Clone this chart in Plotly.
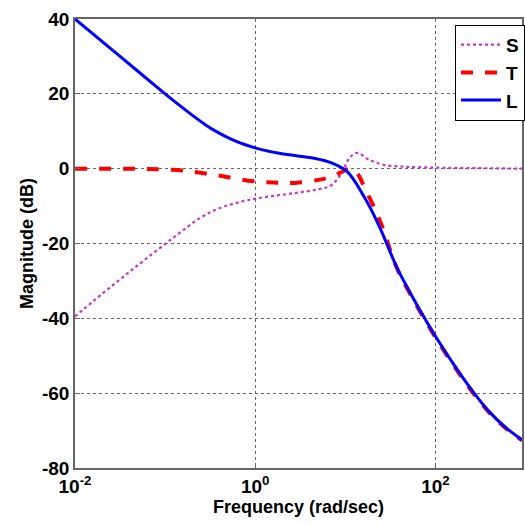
import plotly.graph_objects as go

# log10 of frequency (rad/sec) for each series, and magnitude in dB
l_logw = [-2, -1.5, -1, -0.85, -0.7, -0.55, -0.4, -0.25, -0.11, 0.07, 0.25, 0.44, 0.65, 0.84, 1.02, 1.21, 1.38, 1.57, 1.75, 1.87, 2.01, 2.23, 2.42, 2.59, 2.78, 2.96]
l_db = [40, 30, 20, 17.1, 14.3, 11.7, 9.5, 7.7, 6.4, 5.1, 4.2, 3.5, 2.8, 1.6, -0.8, -7.6, -15.6, -26.3, -34.5, -39.6, -45.2, -53.3, -59.7, -64.8, -69.2, -72.5]

t_logw = [-2, -1.5, -1.18, -0.81, -0.44, -0.08, 0.2, 0.44, 0.7, 0.84, 0.95, 1.05, 1.13, 1.21, 1.38, 1.57, 1.75, 1.87, 2.01, 2.23, 2.42, 2.59, 2.78, 2.96]
t_db = [0, 0, -0.1, -0.5, -1.7, -3.2, -3.7, -3.8, -3.0, -2.2, -1.0, 0.0, -1.2, -4.9, -13.7, -26.5, -34.8, -39.9, -45.5, -53.6, -60.0, -65.0, -69.4, -72.6]

s_logw = [-2, -1.6, -1.25, -0.9, -0.6, -0.4, -0.2, 0.03, 0.44, 0.7, 0.84, 0.95, 1.05, 1.13, 1.27, 1.43, 1.6, 1.8, 2.2, 2.6, 2.96]
s_db = [-39.5, -31.5, -24.8, -18.3, -13.0, -10.6, -9.1, -7.9, -6.5, -5.5, -4.5, -1.5, 3.0, 4.2, 2.3, 1.0, 0.6, 0.4, 0.2, 0.1, 0]

x_tickvals = [0.01, 1, 100]
x_ticktext = ["10<sup>-2</sup>", "10<sup>0</sup>", "10<sup>2</sup>"]
y_tickvals = [-80, -60, -40, -20, 0, 20, 40]
y_ticktext = ["-80", "-60", "-40", "-20", "0", "20", "40"]

FONT = "Liberation Sans, Arial, sans-serif"

fig = go.Figure()
fig.add_trace(go.Scatter(x=[10 ** v for v in s_logw], y=s_db, name="S", mode="lines",
                         line=dict(color="#CC33CC", width=2.2, dash="dot", shape="spline", smoothing=1.0)))
fig.add_trace(go.Scatter(x=[10 ** v for v in t_logw], y=t_db, name="T", mode="lines",
                         line=dict(color="#FF0000", width=4, dash="dash", shape="spline", smoothing=1.0)))
fig.add_trace(go.Scatter(x=[10 ** v for v in l_logw], y=l_db, name="L", mode="lines",
                         line=dict(color="#0000FF", width=3, shape="spline", smoothing=1.0)))

axis_font = dict(family=FONT, size=19, color="black", weight="bold")
title_font = dict(family=FONT, size=18, color="black", weight="bold")

fig.update_layout(
    width=525, height=523,
    margin=dict(l=75, r=0, t=19, b=55),
    paper_bgcolor="white", plot_bgcolor="white",
    font=dict(family=FONT, color="black"),
    showlegend=True,
    legend=dict(x=0.851, y=0.987, xanchor="left", yanchor="top",
                bgcolor="white", bordercolor="black", borderwidth=1,
                font=dict(family=FONT, size=19, color="black", weight="bold"),
                itemwidth=40, tracegroupgap=0),
    xaxis=dict(type="log", range=[-2, 2.96], tickvals=x_tickvals, ticktext=x_ticktext,
               tickfont=axis_font, showgrid=True, gridcolor="#666666", griddash="dot", gridwidth=1,
               showline=True, linecolor="#666666", linewidth=1.5, mirror=True,
               ticks="inside", ticklen=5, tickcolor="#666666", zeroline=False,
               title=dict(text="Frequency (rad/sec)", font=title_font, standoff=4)),
    yaxis=dict(range=[-80, 40], tickvals=y_tickvals, ticktext=y_ticktext,
               tickfont=axis_font, showgrid=True, gridcolor="#666666", griddash="dot", gridwidth=1,
               showline=True, linecolor="#666666", linewidth=1.5, mirror=True,
               ticks="inside", ticklen=5, tickcolor="#666666", zeroline=False,
               title=dict(text="Magnitude (dB)", font=title_font, standoff=4)),
)

fig.write_html("out.html")
